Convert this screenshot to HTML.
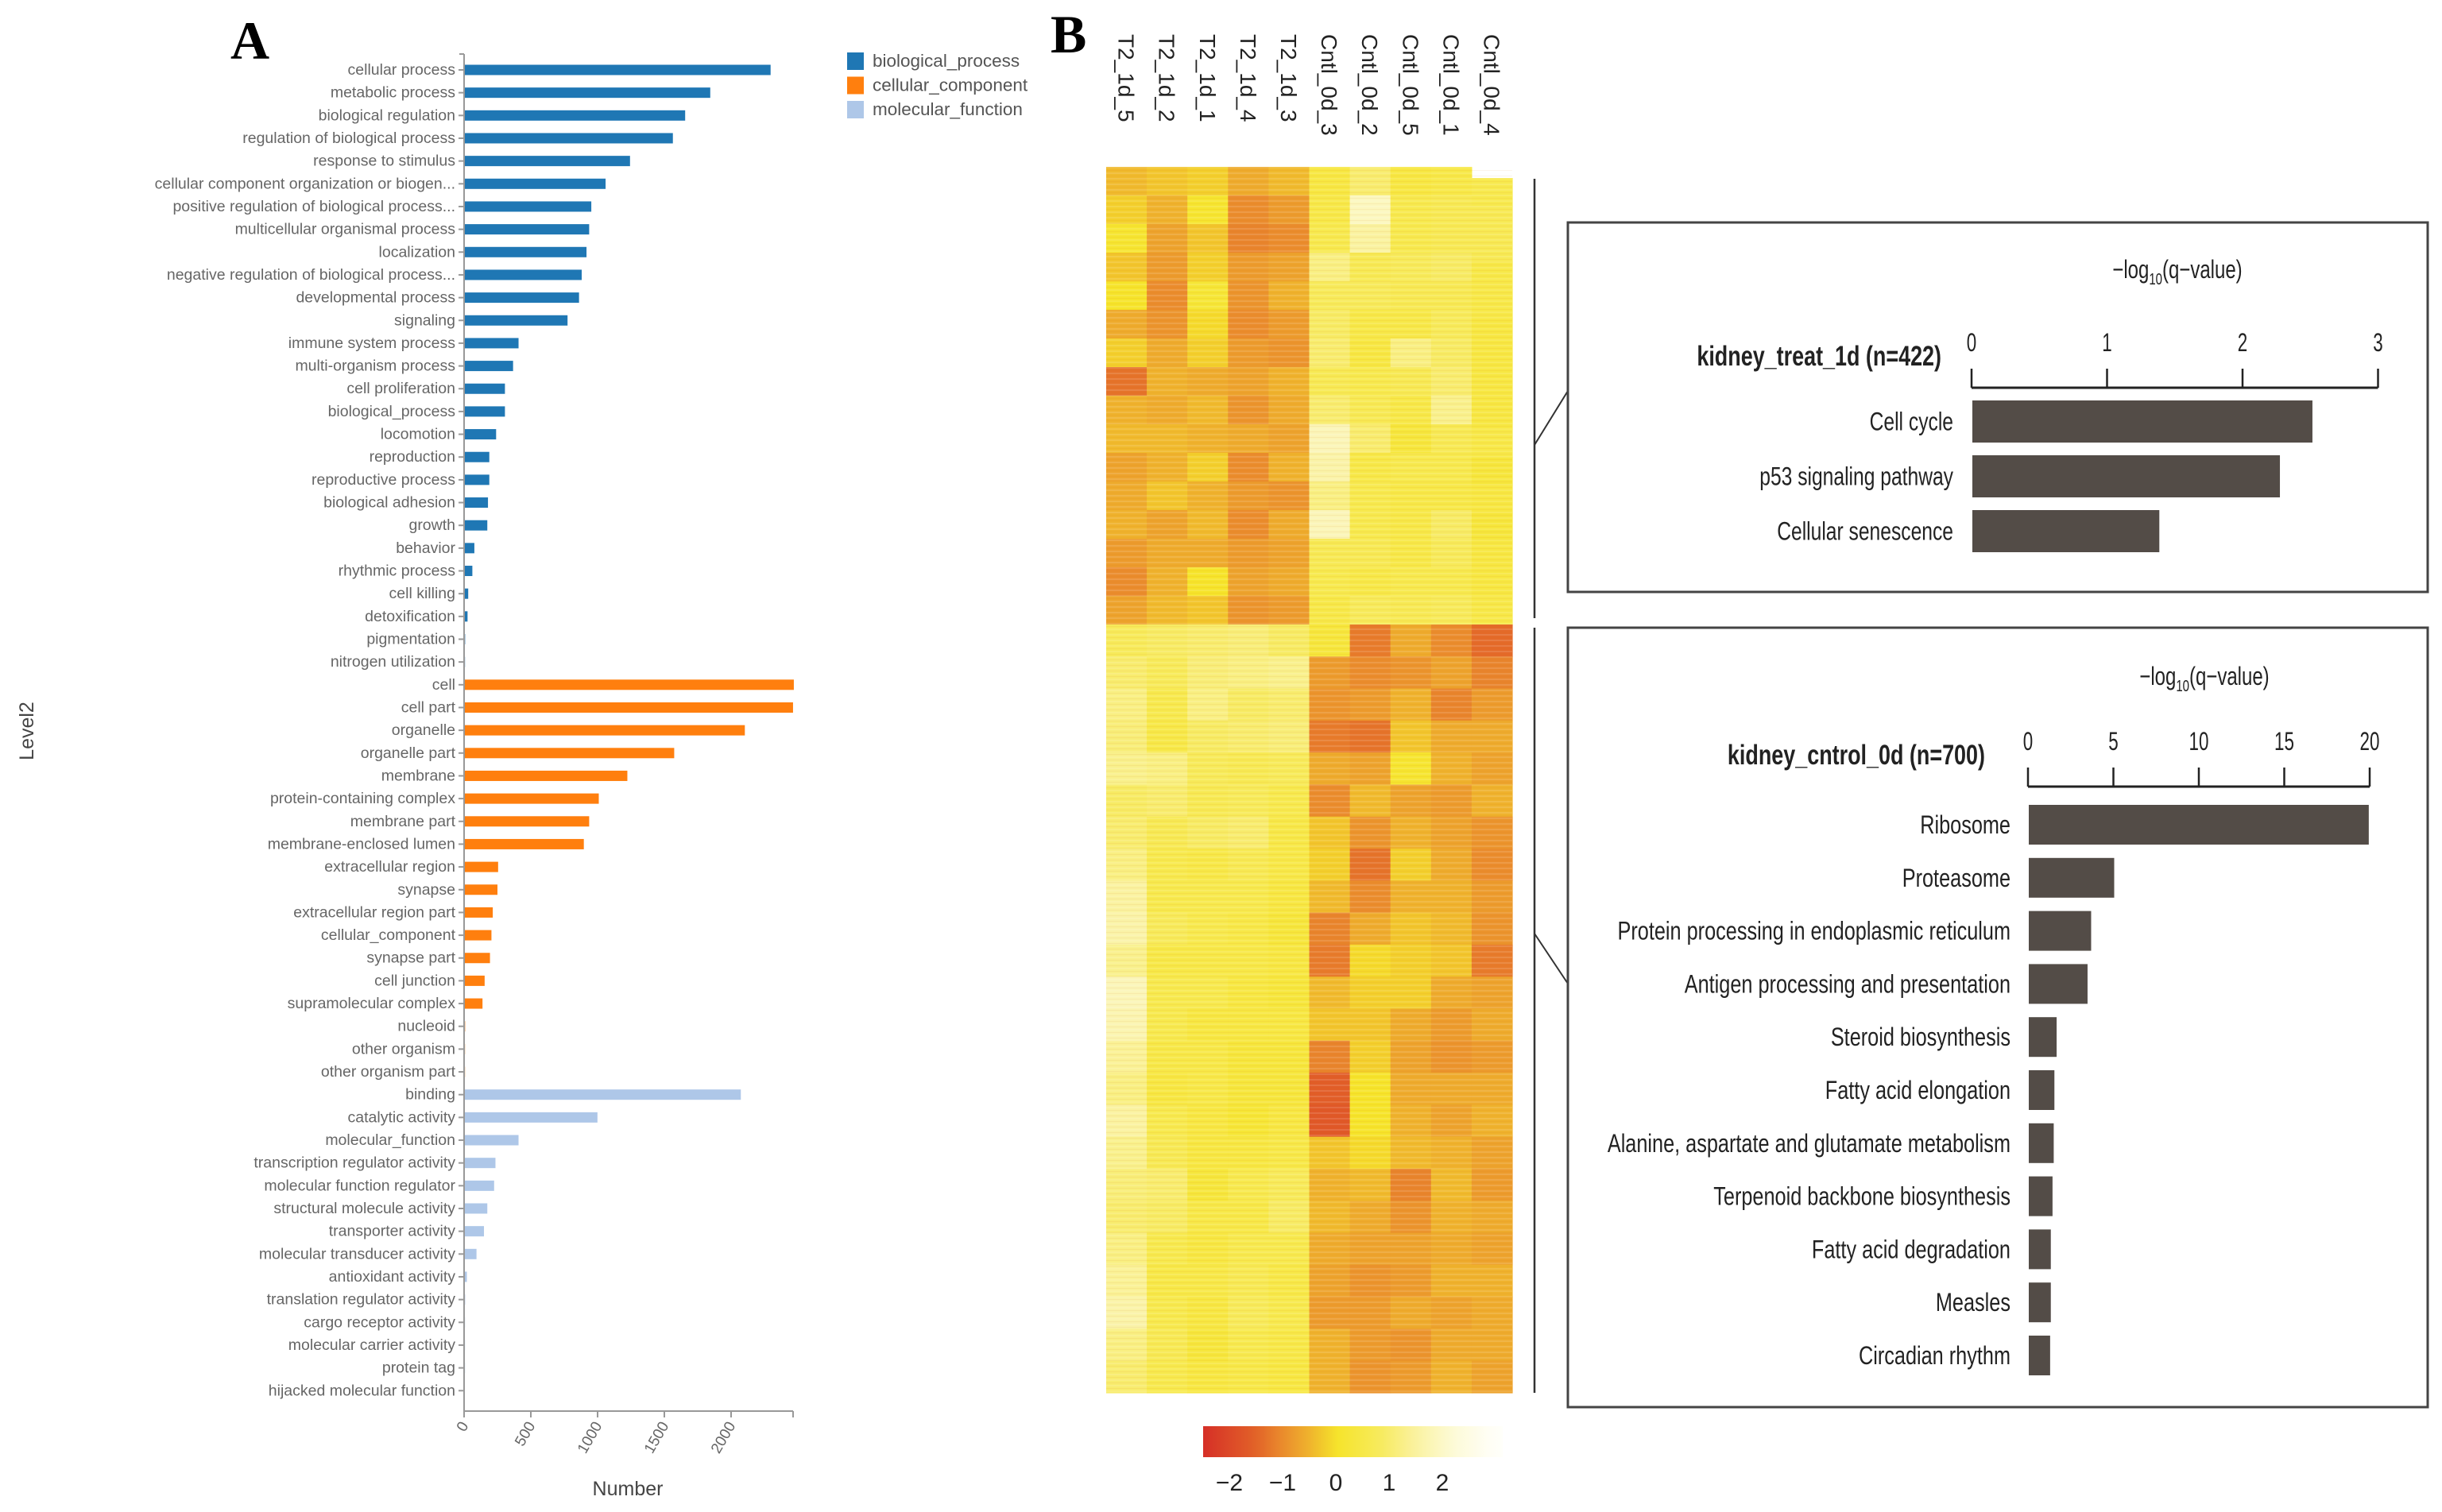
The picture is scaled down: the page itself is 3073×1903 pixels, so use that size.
<!DOCTYPE html>
<html><head><meta charset="utf-8"><title>GO classification and heatmap</title>
<style>
html,body{margin:0;padding:0;background:#fff;}
svg{display:block;}
text{font-family:"Liberation Sans",sans-serif;}
</style></head>
<body>
<svg id="fig" width="3073" height="1903" viewBox="0 0 3073 1903" xmlns="http://www.w3.org/2000/svg">
  <rect x="0" y="0" width="3073" height="1903" fill="#fff"/>
  <text x="290" y="74" font-weight="bold" font-size="68" fill="#000" style="font-family:'Liberation Serif',serif">A</text>
  <text x="1322" y="66" font-weight="bold" font-size="68" fill="#000" style="font-family:'Liberation Serif',serif">B</text>
  <g id="goChart"></g>
  <g id="heat"></g>
  <g id="enrich"></g>
</svg>
<script>
// ---------- Panel A data ----------
const goCategories = ["cellular process","metabolic process","biological regulation","regulation of biological process","response to stimulus","cellular component organization or biogen...","positive regulation of biological process...","multicellular organismal process","localization","negative regulation of biological process...","developmental process","signaling","immune system process","multi-organism process","cell proliferation","biological_process","locomotion","reproduction","reproductive process","biological adhesion","growth","behavior","rhythmic process","cell killing","detoxification","pigmentation","nitrogen utilization",
"cell","cell part","organelle","organelle part","membrane","protein-containing complex","membrane part","membrane-enclosed lumen","extracellular region","synapse","extracellular region part","cellular_component","synapse part","cell junction","supramolecular complex","nucleoid","other organism","other organism part",
"binding","catalytic activity","molecular_function","transcription regulator activity","molecular function regulator","structural molecule activity","transporter activity","molecular transducer activity","antioxidant activity","translation regulator activity","cargo receptor activity","molecular carrier activity","protein tag","hijacked molecular function"];
const goValues = [2290,1838,1650,1558,1237,1054,947,931,911,875,855,769,402,361,300,300,234,183,183,173,168,71,56,25,20,2,1,
2464,2458,2097,1568,1217,1003,931,891,249,244,209,199,188,148,132,2,1,1,
2067,993,402,229,219,168,143,87,15,2,1,1,1,0];
const goGroups = [27,18,14];
const goOntologies = ["biological_process","cellular_component","molecular_function"];
const goTicks = [0,500,1000,1500,2000];

// ---------- Panel B heatmap data ----------
const sampleNames = ["T2_1d_5","T2_1d_2","T2_1d_1","T2_1d_4","T2_1d_3","Cntl_0d_3","Cntl_0d_2","Cntl_0d_5","Cntl_0d_1","Cntl_0d_4"];
const heatTop = [
 [-0.4,-0.2,0.1,-0.3,0,-0.6,-0.2,-1.3,-0.5,-0.4,-0.7,-0.6,-0.5,-0.8,-1.0,-0.7],
 [-0.3,-0.5,-0.7,-0.8,-1.0,-0.9,-0.6,-0.5,-0.6,-0.4,-0.5,-0.3,-0.7,-0.6,-0.5,-0.4],
 [-0.2,0.1,-0.3,-0.2,0.2,-0.1,-0.2,-0.6,-0.4,-0.5,-0.2,-0.5,-0.4,-0.6,0.0,-0.3],
 [-0.6,-1.0,-1.1,-0.8,-0.9,-1.0,-0.8,-0.7,-0.9,-0.6,-1.0,-0.8,-1.0,-0.8,-0.7,-0.9],
 [-0.4,-0.8,-1.0,-0.7,-0.5,-0.8,-0.9,-0.5,-0.6,-0.7,-0.5,-0.9,-0.6,-0.7,-0.6,-0.8],
 [0.4,0.5,0.6,1.2,0.8,0.9,1.0,0.7,1.0,1.8,1.6,1.2,1.8,0.7,0.6,0.5],
 [1.0,1.9,1.5,0.7,0.8,0.5,0.4,0.6,0.7,1.0,0.5,0.6,0.6,0.7,0.5,0.8],
 [0.4,0.6,0.6,0.8,0.7,0.5,1.2,0.7,0.5,0.3,0.6,0.5,0.5,0.5,0.6,0.7],
 [0.5,0.7,0.7,0.9,0.7,0.8,0.9,1.0,1.3,0.7,0.6,0.5,0.9,0.8,0.6,0.8],
 [0.6,0.7,0.7,0.5,0.5,0.4,0.4,0.4,0.4,0.5,0.3,0.4,0.3,0.4,0.4,0.5]
];
const heatBottom = [
 [0.8,1.0,1.2,1.1,1.3,0.9,1.0,1.2,1.5,1.6,1.3,1.8,1.7,1.4,1.2,1.5,1.3,1.1,1.0,1.2,1.4,1.6,1.2,1.0],
 [0.9,0.8,0.6,0.5,1.2,1.0,0.7,0.6,0.6,0.8,0.5,0.6,0.6,0.5,0.4,0.6,0.7,1.0,0.9,0.6,0.5,0.6,0.7,0.6],
 [1.0,1.1,1.2,0.9,0.8,0.7,0.9,0.5,0.6,0.6,0.5,0.6,0.4,0.5,0.5,0.4,0.4,0.3,0.5,0.4,0.5,0.4,0.3,0.4],
 [1.1,1.2,0.9,1.0,0.7,0.8,1.0,0.7,0.6,0.5,0.5,0.4,0.4,0.3,0.3,0.2,0.4,0.6,0.5,0.6,0.7,0.8,0.6,0.5],
 [0.9,1.3,1.0,1.1,0.8,0.6,0.5,0.5,0.4,0.3,0.4,0.3,0.4,0.3,0.3,0.4,0.5,0.8,0.9,0.6,0.5,0.6,0.5,0.4],
 [0.3,-0.8,-0.9,-1.2,-0.6,-1.0,-0.3,-0.2,-0.4,-1.1,-1.2,-0.4,-0.3,-1.1,-1.6,-1.7,-0.3,-0.5,-0.4,-0.6,-0.7,-0.8,-0.5,-0.5],
 [-1.2,-1.0,-0.8,-1.3,-0.7,-0.4,-0.9,-1.3,-1.0,-0.6,-0.1,-0.2,-0.3,-0.2,0.0,0.0,-0.1,-0.4,-0.6,-0.7,-0.9,-0.8,-0.8,-0.9],
 [-0.6,-0.9,-0.5,-0.3,0.1,-0.7,-0.5,-0.2,-0.5,-0.3,-0.2,-0.2,-0.6,-0.7,-0.6,-0.5,-0.4,-1.1,-0.9,-0.7,-0.8,-0.6,-0.9,-0.8],
 [-1.0,-0.7,-1.1,-0.6,-0.5,-0.8,-0.7,-0.6,-0.5,-0.4,-0.3,-0.6,-0.8,-0.9,-0.6,-0.7,-0.5,-0.4,-0.5,-0.6,-0.5,-0.7,-0.6,-0.5],
 [-1.4,-1.1,-0.8,-0.6,-0.7,-0.5,-0.9,-1.0,-0.8,-0.9,-1.2,-0.7,-0.6,-0.8,-0.6,-0.5,-0.7,-0.8,-0.6,-0.7,-0.5,-0.6,-0.6,-0.7]
];
const colorbarTicks = [-2,-1,0,1,2];

// ---------- Enrichment data ----------
const treatTerms = ["Cell cycle","p53 signaling pathway","Cellular senescence"];
const treatValues = [2.51,2.27,1.38];
const treatTicks = [0,1,2,3];
const ctrlTerms = ["Ribosome","Proteasome","Protein processing in endoplasmic reticulum","Antigen processing and presentation","Steroid biosynthesis","Fatty acid elongation","Alanine, aspartate and glutamate metabolism","Terpenoid backbone biosynthesis","Fatty acid degradation","Measles","Circadian rhythm"];
const ctrlValues = [19.9,5.0,3.65,3.44,1.63,1.5,1.46,1.39,1.29,1.29,1.25];
const ctrlTicks = [0,5,10,15,20];

const NS="http://www.w3.org/2000/svg";
function mk(parent,tag,attrs,txt){const e=document.createElementNS(NS,tag);for(const k in attrs)e.setAttribute(k,attrs[k]);if(txt!==undefined)e.textContent=txt;parent.appendChild(e);return e;}

// ================= Panel A =================
(function(){
  const g=document.getElementById('goChart');
  const x0=584, pxPerUnit=0.168, y0=88, step=28.66, barH=13;
  const xs=v=>x0+v*pxPerUnit, ys=i=>y0+i*step;
  const colors=["#1f77b4","#ff7f0e","#aec7e8"];
  let grp=[];goGroups.forEach((n,k)=>{for(let i=0;i<n;i++)grp.push(k);});
  let ax=mk(g,'line',{x1:x0,y1:68,x2:x0,y2:1776,stroke:'#999','stroke-width':2});
  
  
  let bx=mk(g,'line',{x1:x0,y1:1776,x2:998,y2:1776,stroke:'#999','stroke-width':2});
  
  
  mk(g,'line',{x1:x0-6,y1:68,x2:x0,y2:68,stroke:'#999','stroke-width':2});
  mk(g,'line',{x1:998,y1:1776,x2:998,y2:1784,stroke:'#999','stroke-width':2});
  goCategories.forEach((c,i)=>{
    const y=ys(i);
    mk(g,'line',{x1:x0-7,y1:y,x2:x0,y2:y,stroke:'#999','stroke-width':2});
    const t=mk(g,'text',{x:x0-11,y:y+6,'text-anchor':'end','font-size':19.5,fill:'#666'},c);
    
    
    const w=Math.max(0,xs(goValues[i])-x0);
    const r=mk(g,'rect',{x:x0+1,y:y-barH/2,width:w,height:barH,fill:colors[grp[i]]});
    
    
  });
  goTicks.forEach(v=>{
    const x=xs(v);
    mk(g,'line',{x1:x,y1:1776,x2:x,y2:1784,stroke:'#999','stroke-width':2});
    const t=mk(g,'text',{x:0,y:0,'text-anchor':'end','font-size':19,fill:'#666',transform:`translate(${x+6},${1794}) rotate(-60)`},String(v));
    
    
  });
  const xt=mk(g,'text',{x:790,y:1882,'text-anchor':'middle','font-size':25,fill:'#444'},'Number');
  
  
  const yt=mk(g,'text',{x:0,y:0,'text-anchor':'middle','font-size':25,fill:'#444',transform:'translate(42,920) rotate(-90)'},'Level2');
  
  
  goOntologies.forEach((o,k)=>{
    const y=66+k*30.5;
    const s=mk(g,'rect',{x:1066,y:y,width:21,height:22,fill:colors[k]});
    
    
    const t=mk(g,'text',{x:1098,y:y+18,'font-size':22.5,fill:'#555'},o);
    
    
  });
})();

// ================= Panel B heatmap =================
function heatColor(v){
  const stops=[[-2.5,[214,47,39]],[-1.5,[226,98,40]],[-1,[234,140,45]],[-0.4,[240,186,45]],[0,[246,228,42]],[0.8,[247,234,90]],[1.5,[250,242,160]],[2.2,[253,250,215]],[3,[255,255,250]]];
  if(v<=stops[0][0])return `rgb(${stops[0][1]})`;
  for(let i=1;i<stops.length;i++){if(v<=stops[i][0]){const a=stops[i-1],b=stops[i],t=(v-a[0])/(b[0]-a[0]);const c=a[1].map((q,j)=>Math.round(q+(b[1][j]-q)*t));return `rgb(${c})`;}}
  return `rgb(${stops[stops.length-1][1]})`;
}
(function(){
  const g=document.getElementById('heat');
  const left=1392,right=1903,top=210,mid=786,bottom=1753;
  const cw=(right-left)/sampleNames.length;
  sampleNames.forEach((s,c)=>{
    const x=left+c*cw;
    const t0=(c===9)?224:top;
    const nT=heatTop[c].length, hT=(mid-t0)/nT;
    heatTop[c].forEach((v,r)=>{
      const e=mk(g,'rect',{x:x,y:t0+r*hT,width:cw+0.6,height:hT+0.6,fill:heatColor(v)});
      
      
    });
    const nB=heatBottom[c].length, hB=(bottom-mid)/nB;
    heatBottom[c].forEach((v,r)=>{
      const e=mk(g,'rect',{x:x,y:mid+r*hB,width:cw+0.6,height:hB+0.6,fill:heatColor(v)});
      
      
    });
    const t=mk(g,'text',{x:0,y:0,'font-size':28,fill:'#222',transform:`translate(${x+cw/2-10},43) rotate(90)`},s);
    
    
  });
  const defs=mk(g,'defs',{});
  const pat=mk(defs,'pattern',{id:'stripes',width:8,height:7,patternUnits:'userSpaceOnUse'});
  mk(pat,'rect',{x:0,y:0,width:8,height:2,fill:'rgba(255,255,255,0.12)'});
  mk(pat,'rect',{x:0,y:4,width:8,height:1,fill:'rgba(200,100,0,0.08)'});
  mk(g,'rect',{x:left,y:top,width:right-left,height:bottom-top,fill:'url(#stripes)'});
  const cbL=1514,cbR=1891,pxU=67,c0=1681;
  const grad=mk(defs,'linearGradient',{id:'cbgrad',x1:0,y1:0,x2:1,y2:0});
  for(let i=0;i<=20;i++){const v=(cbL-c0)/pxU+i/20*((cbR-cbL)/pxU);mk(grad,'stop',{offset:(i*5)+'%','stop-color':heatColor(v)});}
  const cb=mk(g,'rect',{x:cbL,y:1795,width:cbR-cbL,height:39,fill:'url(#cbgrad)'});
  
  
  colorbarTicks.forEach(v=>{
    const t=mk(g,'text',{x:c0+v*pxU,y:1876,'text-anchor':'middle','font-size':30,fill:'#222'},v<0?'\u2212'+Math.abs(v):String(v));
    
    
  });
  mk(g,'line',{x1:1931,y1:225,x2:1931,y2:778,stroke:'#333','stroke-width':2.5});
  mk(g,'line',{x1:1931,y1:790,x2:1931,y2:1753,stroke:'#333','stroke-width':2.5});
  mk(g,'line',{x1:1931,y1:560,x2:1973,y2:492,stroke:'#333','stroke-width':2});
  mk(g,'line',{x1:1931,y1:1175,x2:1973,y2:1238,stroke:'#333','stroke-width':2});
})();

// ================= Enrichment panels =================
function enrichPanel(cfg){
  const g=mk(document.getElementById('enrich'),'g',{});
  
  
  mk(g,'rect',{x:cfg.bx,y:cfg.by,width:cfg.bw,height:cfg.bh,fill:'none',stroke:'#444','stroke-width':3});
  const xs=v=>cfg.x0+v*cfg.pxU;
  const axEnd=xs(cfg.ticks[cfg.ticks.length-1]);
  mk(g,'line',{x1:cfg.x0,y1:cfg.axY,x2:axEnd,y2:cfg.axY,stroke:'#222','stroke-width':3});
  cfg.ticks.forEach(v=>{
    mk(g,'line',{x1:xs(v),y1:cfg.axY-24,x2:xs(v),y2:cfg.axY,stroke:'#222','stroke-width':2.5});
    const t=mk(g,'text',{x:0,y:0,'text-anchor':'middle','font-size':32,fill:'#222',transform:`translate(${xs(v)},${cfg.axY-46}) scale(0.7,1)`},String(v));
    
    
  });
  const at=mk(g,'text',{x:0,y:0,'text-anchor':'middle','font-size':32,fill:'#222',transform:`translate(${cfg.titleX},${cfg.titleY}) scale(0.75,1)`});
  
  
  mk(at,'tspan',{},'\u2212log');
  mk(at,'tspan',{'font-size':20,dy:8},'10');
  mk(at,'tspan',{dy:-8},'(q\u2212value)');
  const tt=mk(g,'text',{x:0,y:0,'text-anchor':'end','font-size':35,'font-weight':'bold',fill:'#222',transform:`translate(${cfg.nameX},${cfg.nameY}) scale(0.77,1)`},cfg.title);
  
  
  cfg.terms.forEach((term,i)=>{
    const y=cfg.barY+i*cfg.step;
    const r=mk(g,'rect',{x:cfg.x0+1,y:y,width:xs(cfg.values[i])-cfg.x0,height:cfg.barH,fill:'#534c47'});
    
    
    const t=mk(g,'text',{x:0,y:0,'text-anchor':'end','font-size':32,fill:'#222',transform:`translate(${cfg.labelX},${y+cfg.barH/2+11}) scale(${cfg.sx},1)`},term);
    
    
  });
}
enrichPanel({name:'treat-enrichment-panel',bx:1973,by:280,bw:1082,bh:465,x0:2481,pxU:170.5,ticks:treatTicks,axY:488,
  titleX:2740,titleY:350,nameX:2443,nameY:460,title:'kidney_treat_1d (n=422)',terms:treatTerms,values:treatValues,barY:504,step:69,barH:53,labelX:2458,sx:0.77});
enrichPanel({name:'control-enrichment-panel',bx:1973,by:790,bw:1082,bh:981,x0:2552,pxU:21.5,ticks:ctrlTicks,axY:990,
  titleX:2774,titleY:862,nameX:2498,nameY:962,title:'kidney_cntrol_0d (n=700)',terms:ctrlTerms,values:ctrlValues,barY:1013,step:66.8,barH:50,labelX:2530,sx:0.79});
</script>
</body></html>
